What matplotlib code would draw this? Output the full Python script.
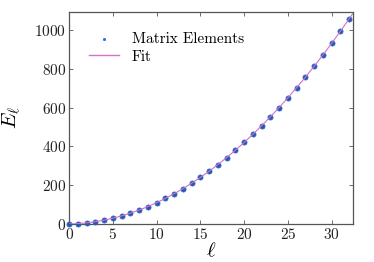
import numpy as np
import matplotlib
matplotlib.use("Agg")
import matplotlib.pyplot as plt

plt.rcParams['font.family'] = 'serif'
plt.rcParams['font.serif'] = ['cmr10']
plt.rcParams['mathtext.fontset'] = 'cm'
plt.rcParams['axes.formatter.use_mathtext'] = True

ell = [0, 1, 2, 3, 4, 5, 6, 7, 8, 9, 10, 11, 12, 13, 14, 15, 16,
       17, 18, 19, 20, 21, 22, 23, 24, 25, 26, 27, 28, 29, 30, 31, 32]
energy = [0, 2, 6, 12, 20, 30, 42, 56, 72, 90, 110, 132, 156, 182, 210, 240, 272,
          306, 342, 380, 420, 462, 506, 552, 600, 650, 702, 756, 812, 870, 930, 992, 1056]

coef = np.polyfit(ell, energy, 2)
xfit = np.linspace(0, 33, 200)
yfit = np.polyval(coef, xfit)

fig, ax = plt.subplots(figsize=(3.74, 2.62), dpi=100)
fig.subplots_adjust(left=0.185, right=0.945, bottom=0.145, top=0.955)

ax.scatter(ell, energy, s=14, color='#2b55a8', edgecolors='#2a6fd0', linewidths=0.5,
           zorder=4, clip_on=False, label='Matrix Elements')
ax.plot(xfit, yfit, color='#d070d0', lw=0.8, zorder=5, label='Fit')

ax.set_xlim(0, 32.5)
ax.set_ylim(0, 1093)
ax.set_xticks([0, 5, 10, 15, 20, 25, 30])
ax.set_yticks([0, 200, 400, 600, 800, 1000])
ax.tick_params(direction='in', top=True, right=True, length=3, width=0.6,
               labelsize=11, colors='#555555', labelcolor='#222222', pad=2)
for sp in ax.spines.values():
    sp.set_color('#555555')
    sp.set_linewidth(0.9)

ax.set_xlabel(r'$\ell$', fontsize=15, labelpad=0)
ax.set_ylabel(r'$E_\ell$', fontsize=15, labelpad=8)

leg = ax.legend(loc='upper left', frameon=False, fontsize=11, markerscale=0.45,
                handlelength=2.0, borderaxespad=0.6, labelspacing=0.25,
                bbox_to_anchor=(0.015, 0.975))
leg.legend_handles[0].set_color('#1a6fe0')
leg.legend_handles[1].set_linewidth(1.0)

plt.savefig('out.png', dpi=100)
